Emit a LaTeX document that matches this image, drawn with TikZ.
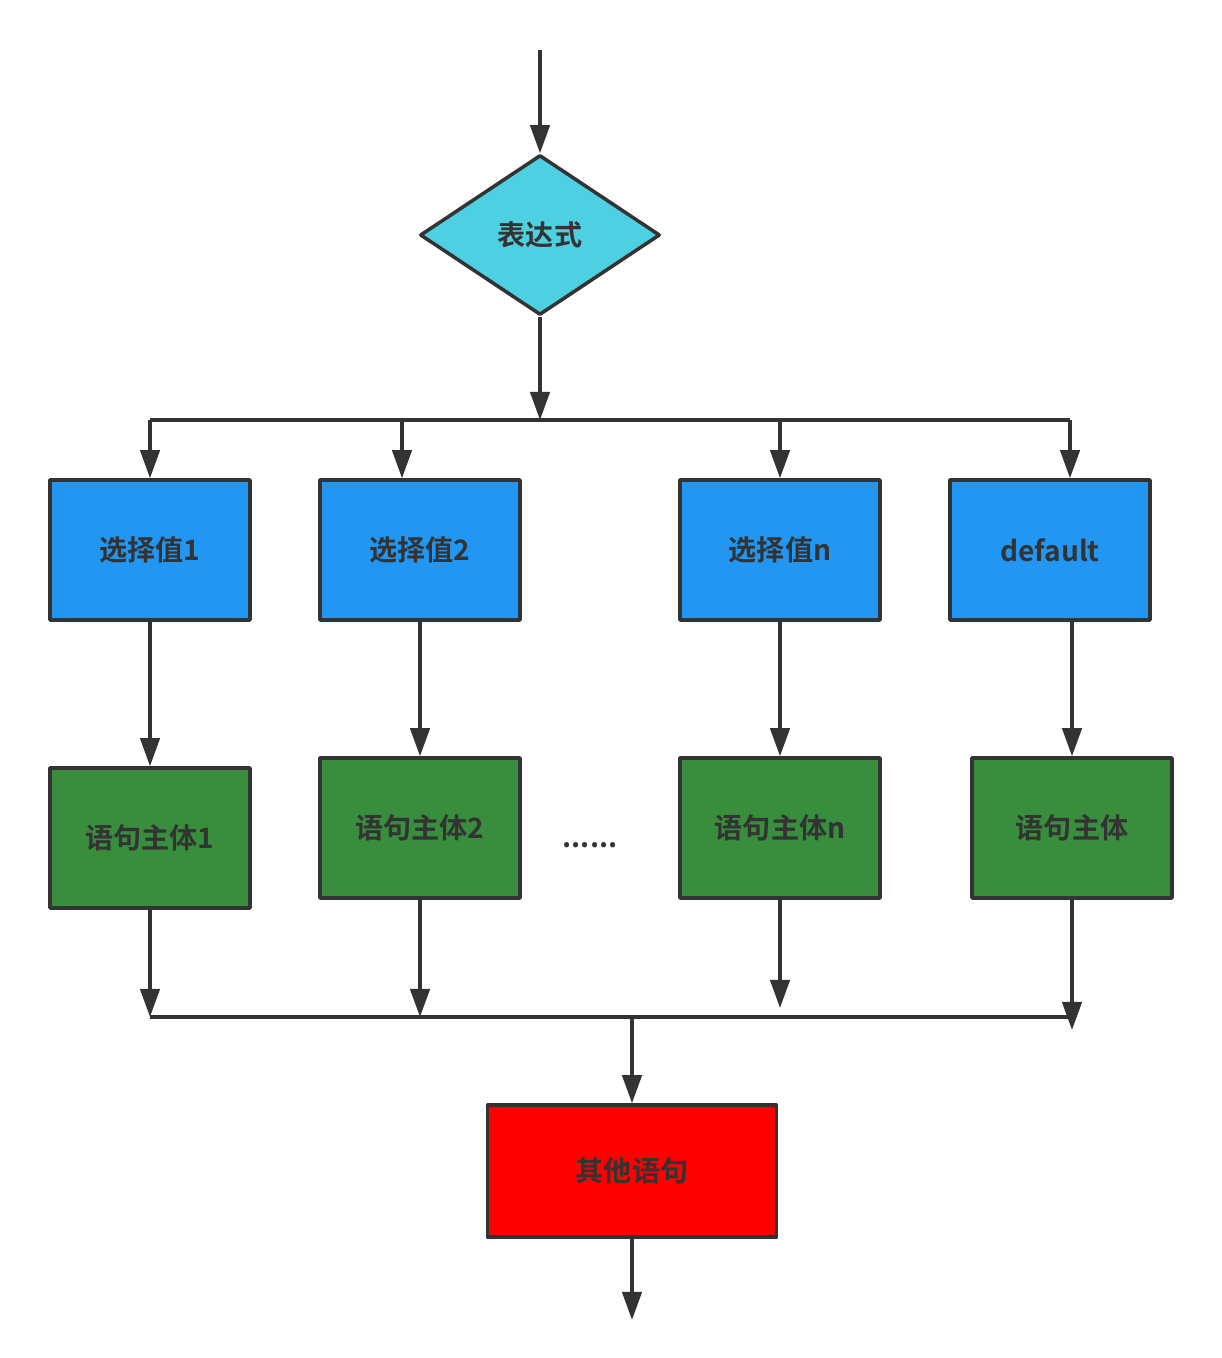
\documentclass[tikz,border=0pt]{standalone}
\usepackage{fontspec}
\newfontfamily\cjk{Noto Sans CJK SC}[BoldFont={Noto Sans CJK SC Bold}]
\usetikzlibrary{shapes.geometric,arrows.meta}
\definecolor{edge}{HTML}{333333}
\definecolor{cyanfill}{HTML}{4DD0E1}
\definecolor{bluefill}{HTML}{2196F3}
\definecolor{greenfill}{HTML}{388E3C}
\definecolor{redfill}{HTML}{FF0000}
\tikzset{
  lbl/.style={font=\cjk\bfseries\fontsize{16pt}{19pt}\selectfont, text=edge},
  box/.style={lbl, draw=edge, line width=2pt, minimum width=4cm, minimum height=2.8cm, inner sep=0pt},
  arr/.style={draw=edge, line width=2pt, -{Triangle[length=16pt,width=11pt]}},
  bus/.style={draw=edge, line width=2pt}
}
\begin{document}
\begin{tikzpicture}[x=0.02cm, y=-0.02cm, line join=round]
    \useasboundingbox (0,0) rectangle (1222,1358);

    % 1. 判断与分支
    \coordinate (start) at (540,50);
    \node[lbl, diamond, draw=edge, fill=cyanfill, line width=2pt, minimum width=4.8cm, minimum height=3.2cm, inner sep=0pt] (expr) at (540,235) {表达式};

    % 2. 选择值
    \node[box, fill=bluefill] (b1) at (150,550) {选择值1};
    \node[box, fill=bluefill] (b2) at (420,550) {选择值2};
    \node[box, fill=bluefill] (bn) at (780,550) {选择值n};
    \node[box, fill=bluefill] (b4) at (1050,550) {default};

    % 3. 语句主体
    \node[box, fill=greenfill] (g1) at (150,838) {语句主体1};
    \node[box, fill=greenfill] (g2) at (420,828) {语句主体2};
    \node[box, fill=greenfill] (gn) at (780,828) {语句主体n};
    \node[box, fill=greenfill] (g4) at (1072,828) {语句主体};
    \node[lbl] (dots) at (590,845) {......};

    % 4. 其他语句
    \node[box, fill=redfill, minimum width=5.78cm, minimum height=2.64cm] (other) at (632,1171) {其他语句};
    \coordinate (stop) at (632,1320);

    % 5. 汇线坐标
    \coordinate (topL) at (150,420);
    \coordinate (topM) at (540,420);
    \coordinate (top2) at (402,420);
    \coordinate (topR) at (1070,420);
    \coordinate (lowL) at (150,1017);
    \coordinate (lowM) at (632,1017);
    \coordinate (lowR) at (1072,1017);

    % 6. 连线
    \draw[arr] (start) -- (expr);
    \draw[arr] (expr) -- (topM);
    \draw[bus] (topL) -- (topR);
    \draw[arr] (topL) -- (b1);
    \draw[arr] (top2) -- (top2 |- b2.north);
    \draw[arr] (topM -| bn) -- (bn);
    \draw[arr] (topR) -- (topR |- b4.north);

    \draw[arr] (b1) -- (g1);
    \draw[arr] (b2) -- (g2);
    \draw[arr] (bn) -- (gn);
    \draw[arr] (g4.north |- b4.south) -- (g4);

    \draw[arr] (g1) -- (lowL);
    \draw[arr] (g2) -- (g2 |- lowL);
    \draw[arr] (gn) -- ([yshift=0.18cm]gn |- lowL);
    \draw[arr] (g4) -- ([yshift=-0.26cm]lowR);
    \draw[bus] (lowL) -- (lowR);
    \draw[arr] (lowM) -- (other);
    \draw[arr] (other) -- (stop);

\end{tikzpicture}
\end{document}
